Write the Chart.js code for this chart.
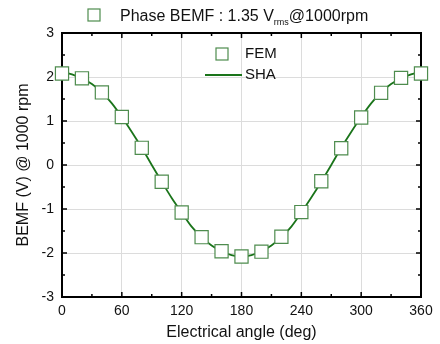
<!DOCTYPE html>
<html>
<head>
<meta charset="utf-8">
<script src="https://cdn.jsdelivr.net/npm/chart.js@4/dist/chart.umd.min.js"></script>
<style>
  html, body { margin: 0; padding: 0; background: #fff; }
  #wrap { width: 440px; height: 344px; }
</style>
</head>
<body>
<div id="wrap"><canvas id="bemfChart"></canvas></div>
<script>
// FEM samples (every 20 deg)
const femAngles = [0, 20, 40, 60, 80, 100, 120, 140, 160, 180, 200, 220, 240, 260, 280, 300, 320, 340, 360];
const femValues = [2.08, 1.97, 1.65, 1.09, 0.39, -0.38, -1.08, -1.64, -1.96, -2.08, -1.97, -1.63, -1.07, -0.37, 0.38, 1.08, 1.64, 1.98, 2.08];

// SHA curve (every 10 deg)
const shaAngles = [0, 10, 20, 30, 40, 50, 60, 70, 80, 90, 100, 110, 120, 130, 140, 150, 160, 170, 180,
  190, 200, 210, 220, 230, 240, 250, 260, 270, 280, 290, 300, 310, 320, 330, 340, 350, 360];
const shaValues = [2.13, 2.06, 1.97, 1.84, 1.65, 1.40, 1.09, 0.75, 0.39, 0.0, -0.38, -0.75, -1.08, -1.40, -1.64, -1.83, -1.96, -2.05, -2.09,
  -2.05, -1.96, -1.83, -1.64, -1.40, -1.08, -0.74, -0.38, 0.0, 0.39, 0.75, 1.09, 1.40, 1.65, 1.84, 1.97, 2.06, 2.13];

const xTicks = [0, 60, 120, 180, 240, 300, 360];
const yTicks = [-3, -2, -1, 0, 1, 2, 3];

const FONT = "'Liberation Sans', Arial, sans-serif";
const GREEN = '#1a741a';
const MARK = '#4e8c4e';

// frame, inward ticks, title and legend
const decor = {
  id: 'decor',
  beforeDatasetsDraw(chart) {
    const { ctx, chartArea: a, scales: { x, y } } = chart;
    ctx.save();
    ctx.strokeStyle = '#000';
    ctx.lineWidth = 1.5;
    for (let v = 0; v <= 360; v += 30) {
      const px = x.getPixelForValue(v);
      const len = v % 60 === 0 ? 5 : 3;
      ctx.beginPath();
      ctx.moveTo(px, a.bottom); ctx.lineTo(px, a.bottom - len);
      ctx.moveTo(px, a.top); ctx.lineTo(px, a.top + len);
      ctx.stroke();
    }
    for (let v = -3; v <= 3; v += 0.5) {
      const py = y.getPixelForValue(v);
      const len = Number.isInteger(v) ? 5 : 3;
      ctx.beginPath();
      ctx.moveTo(a.left, py); ctx.lineTo(a.left + len, py);
      ctx.moveTo(a.right, py); ctx.lineTo(a.right - len, py);
      ctx.stroke();
    }
    ctx.lineWidth = 2;
    ctx.strokeRect(a.left, a.top, a.right - a.left, a.bottom - a.top);
    ctx.restore();
  },
  afterDraw(chart) {
    const { ctx } = chart;
    ctx.save();
    // title
    ctx.strokeStyle = MARK;
    ctx.lineWidth = 1.2;
    ctx.fillStyle = '#fff';
    ctx.fillRect(88, 9, 12, 12);
    ctx.strokeRect(88, 9, 12, 12);
    ctx.fillStyle = '#111';
    ctx.textBaseline = 'alphabetic';
    ctx.textAlign = 'left';
    ctx.font = '16px ' + FONT;
    const t1 = 'Phase BEMF : 1.35 V';
    ctx.fillText(t1, 120, 21);
    let cx = 120 + ctx.measureText(t1).width;
    ctx.font = '9px ' + FONT;
    ctx.fillText('rms', cx, 25);
    cx += ctx.measureText('rms').width;
    ctx.font = '16px ' + FONT;
    ctx.fillText('@1000rpm', cx, 21);

    // legend
    ctx.strokeStyle = MARK;
    ctx.fillStyle = '#fff';
    ctx.fillRect(216, 48, 12, 12);
    ctx.strokeRect(216, 48, 12, 12);
    ctx.strokeStyle = GREEN;
    ctx.lineWidth = 1.8;
    ctx.beginPath();
    ctx.moveTo(205, 75); ctx.lineTo(242, 75);
    ctx.stroke();
    ctx.fillStyle = '#111';
    ctx.font = '15px ' + FONT;
    ctx.textBaseline = 'middle';
    ctx.fillText('FEM', 245, 54);
    ctx.fillText('SHA', 245, 75);
    ctx.restore();
  }
};

const ctx = document.getElementById('bemfChart').getContext('2d');

new Chart(ctx, {
  type: 'line',
  data: {
    datasets: [
      {
        label: 'FEM',
        data: femAngles.map((a, i) => ({ x: a, y: femValues[i] })),
        showLine: false,
        pointStyle: 'rect',
        pointRadius: 9.3,
        pointBackgroundColor: '#fff',
        pointBorderColor: MARK,
        pointBorderWidth: 1.2,
        clip: false
      },
      {
        label: 'SHA',
        data: shaAngles.map((a, i) => ({ x: a, y: shaValues[i] })),
        borderColor: GREEN,
        borderWidth: 1.8,
        pointRadius: 0,
        cubicInterpolationMode: 'monotone',
        fill: false
      }
    ]
  },
  options: {
    responsive: true,
    maintainAspectRatio: false,
    animation: false,
    layout: { padding: { top: 33, right: 19, left: 0, bottom: 0 } },
    plugins: {
      legend: { display: false },
      tooltip: { enabled: false }
    },
    scales: {
      x: {
        type: 'linear',
        min: 0,
        max: 360,
        afterBuildTicks: s => { s.ticks = xTicks.map(v => ({ value: v })); },
        afterFit: s => { s.height = 47; },
        grid: { color: '#dcdcdc', lineWidth: 1, drawTicks: false },
        border: { display: false },
        ticks: { color: '#111', font: { family: FONT, size: 14 }, padding: 6, maxRotation: 0 },
        title: { display: true, text: 'Electrical angle (deg)', color: '#111', font: { family: FONT, size: 16 }, padding: { top: 0, bottom: 2 } }
      },
      y: {
        min: -3,
        max: 3,
        afterBuildTicks: s => { s.ticks = yTicks.map(v => ({ value: v })); },
        afterFit: s => { s.width = 62; },
        grid: { color: '#dcdcdc', lineWidth: 1, drawTicks: false },
        border: { display: false },
        ticks: { color: '#111', font: { family: FONT, size: 14 }, padding: 8 },
        title: { display: true, text: 'BEMF (V) @ 1000 rpm', color: '#111', font: { family: FONT, size: 16 }, padding: { top: 14, bottom: 0 } }
      }
    }
  },
  plugins: [decor]
});
</script>
</body>
</html>
